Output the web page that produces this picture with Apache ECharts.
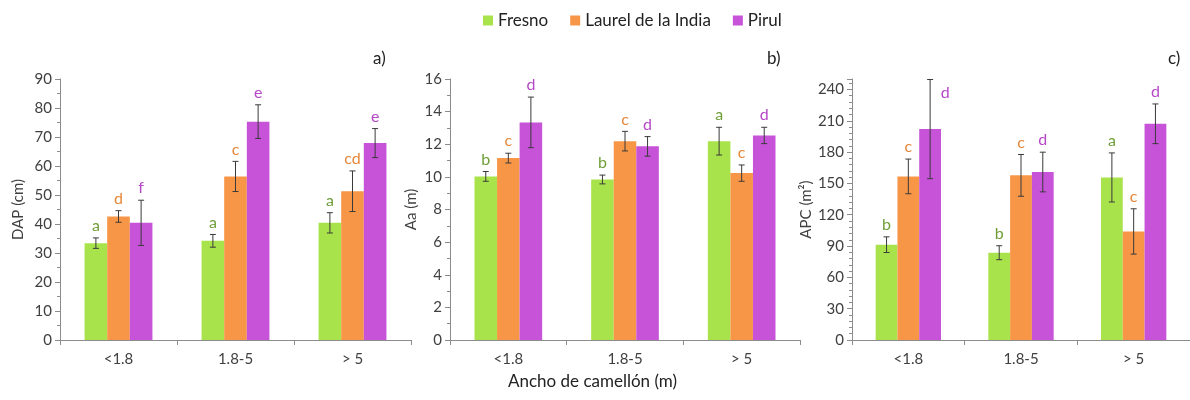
<!DOCTYPE html>
<html><head><meta charset="utf-8">
<script src="https://cdn.jsdelivr.net/npm/echarts@6/dist/echarts.min.js"></script>
<style>html,body{margin:0;padding:0;background:#fff}#c{width:1190px;height:400px}</style>
</head><body><div id="c"></div>
<script>
const categories = ['<1.8', '1.8-5', '> 5'];
const species = ['Fresno', 'Laurel de la India', 'Pirul'];

// Panel a: DAP (cm)
const dapFresno = [33.4, 34.2, 40.4];
const dapLaurel = [42.6, 56.4, 51.3];
const dapPirul = [40.4, 75.3, 67.9];
const dapErrFresno = [1.8, 2.2, 3.5];
const dapErrLaurel = [2.0, 5.2, 7.0];
const dapErrPirul = [7.8, 5.8, 5.0];
const dapLetFresno = ['a', 'a', 'a'];
const dapLetLaurel = ['d', 'c', 'cd'];
const dapLetPirul = ['f', 'e', 'e'];

// Panel b: Aa (m)
const aaFresno = [10.03, 9.84, 12.19];
const aaLaurel = [11.15, 12.19, 10.23];
const aaPirul = [13.34, 11.87, 12.54];
const aaErrFresno = [0.3, 0.27, 0.85];
const aaErrLaurel = [0.3, 0.6, 0.5];
const aaErrPirul = [1.55, 0.6, 0.5];
const aaLetFresno = ['b', 'b', 'a'];
const aaLetLaurel = ['c', 'c', 'c'];
const aaLetPirul = ['d', 'd', 'd'];

// Panel c: APC (m2)
const apcFresno = [91.3, 83.6, 155.7];
const apcLaurel = [156.7, 157.7, 104.0];
const apcPirul = [202.0, 160.9, 207.1];
const apcErrFresno = [7.5, 6.7, 23.5];
const apcErrLaurel = [16.6, 20.0, 21.7];
const apcErrPirul = [47.5, 19.0, 19.0];
const apcLetFresno = ['b', 'b', 'a'];
const apcLetLaurel = ['c', 'c', 'c'];
const apcLetPirul = ['d', 'd', 'd'];

const panelTags = ['a)', 'b)', 'c)'];
const yNames = ['DAP (cm)', 'Aa (m)', 'APC (m\u00b2)'];
const xName = 'Ancho de camellón (m)';

const barColors = ['#a9e34b', '#f79646', '#c653d8'];
const letterColors = ['#6f9e38', '#e5873a', '#b648c8'];
const FONT = 'Lato';

const panels = [
  {vals: [dapFresno, dapLaurel, dapPirul], errs: [dapErrFresno, dapErrLaurel, dapErrPirul], lets: [dapLetFresno, dapLetLaurel, dapLetPirul], max: 90, interval: 10, split: 2},
  {vals: [aaFresno, aaLaurel, aaPirul], errs: [aaErrFresno, aaErrLaurel, aaErrPirul], lets: [aaLetFresno, aaLetLaurel, aaLetPirul], max: 16, interval: 2, split: 2},
  {vals: [apcFresno, apcLaurel, apcPirul], errs: [apcErrFresno, apcErrLaurel, apcErrPirul], lets: [apcLetFresno, apcLetLaurel, apcLetPirul], max: 250, interval: 30, split: 5}
];

const grids = [
  {left: 60, width: 351, top: 79, height: 261},
  {left: 450, width: 350, top: 79, height: 261},
  {left: 852, width: 343, top: 79, height: 261}
];

const CAT_GAP = 0.42;
const xAxes = [], yAxes = [], series = [];
panels.forEach((p, gi) => {
  xAxes.push({
    type: 'category', gridIndex: gi, data: categories,
    axisLine: {lineStyle: {color: '#8c8c8c', width: 1}},
    axisTick: {show: true, length: 5, lineStyle: {color: '#8c8c8c'}},
    axisLabel: {color: '#404040', fontSize: 15, fontFamily: FONT, margin: 12}
  });
  yAxes.push({
    type: 'value', gridIndex: gi, min: 0, max: p.max, interval: p.interval,
    name: yNames[gi], nameLocation: 'middle', nameGap: gi === 0 ? 34 : (gi === 1 ? 31 : 38),
    nameTextStyle: {color: '#404040', fontSize: 15, fontFamily: FONT},
    axisLine: {show: true, lineStyle: {color: '#8c8c8c'}},
    axisTick: {show: true, length: 5, lineStyle: {color: '#8c8c8c'}},
    minorTick: {show: true, splitNumber: p.split, length: 3, lineStyle: {color: '#8c8c8c'}},
    splitLine: {show: false},
    axisLabel: {color: '#404040', fontSize: 15, fontFamily: FONT, margin: 8,
      formatter: v => (v % p.interval === 0 ? String(v) : '')}
  });
  species.forEach((sp, si) => {
    series.push({
      type: 'bar', name: sp, xAxisIndex: gi, yAxisIndex: gi,
      data: p.vals[si], barGap: '0%', barCategoryGap: (CAT_GAP * 100) + '%',
      itemStyle: {color: barColors[si]}, z: 2
    });
  });
  species.forEach((sp, si) => {
    const data = p.vals[si].map((v, ci) => [ci, v, p.errs[si][ci], ci]);
    series.push({
      type: 'custom', name: sp, xAxisIndex: gi, yAxisIndex: gi, clip: false, z: 5,
      silent: true,
      data: data,
      renderItem: (params, api) => {
        const ci = api.value(0), v = api.value(1), e = api.value(2);
        const catW = api.size([1, 0])[0];
        const bw = catW * (1 - CAT_GAP) / 3;
        const base = api.coord([ci, v]);
        const x = base[0] + (si - 1) * bw;
        const yTop = api.coord([ci, v + e])[1];
        const yBot = api.coord([ci, v - e])[1];
        const cap = 3;
        const ls = {stroke: '#3a3a3a', lineWidth: 1};
        let lx = x, ly = yTop - 12;
        const gridTop = grids[gi].top;
        if (ly < gridTop + 4) { lx = x + 15; ly = gridTop + 14; }
        return {type: 'group', children: [
          {type: 'line', shape: {x1: x, y1: yTop, x2: x, y2: yBot}, style: ls},
          {type: 'line', shape: {x1: x - cap, y1: yTop, x2: x + cap, y2: yTop}, style: ls},
          {type: 'line', shape: {x1: x - cap, y1: yBot, x2: x + cap, y2: yBot}, style: ls},
          {type: 'text', x: lx, y: ly, style: {text: p.lets[si][ci], fill: letterColors[si],
            font: '16px ' + FONT, textAlign: 'center', textVerticalAlign: 'middle'}}
        ]};
      }
    });
  });
});

const chart = echarts.init(document.getElementById('c'), null, {renderer: 'canvas'});
chart.setOption({
  animation: false,
  backgroundColor: '#ffffff',
  textStyle: {fontFamily: FONT},
  legend: {
    data: species, left: 478, top: 7, itemWidth: 10, itemHeight: 10, itemGap: 22,
    icon: 'rect', textStyle: {fontSize: 17, color: '#222', fontFamily: FONT}
  },
  grid: grids,
  xAxis: xAxes,
  yAxis: yAxes,
  series: series,
  graphic: [
    {type: 'text', left: 508, top: 373, style: {text: xName, font: '17px ' + FONT, fill: '#222'}},
    {type: 'text', x: 373, y: 50, style: {text: panelTags[0], font: '17px ' + FONT, fill: '#222'}},
    {type: 'text', x: 767, y: 50, style: {text: panelTags[1], font: '17px ' + FONT, fill: '#222'}},
    {type: 'text', x: 1168, y: 50, style: {text: panelTags[2], font: '17px ' + FONT, fill: '#222'}}
  ]
});
</script></body></html>
